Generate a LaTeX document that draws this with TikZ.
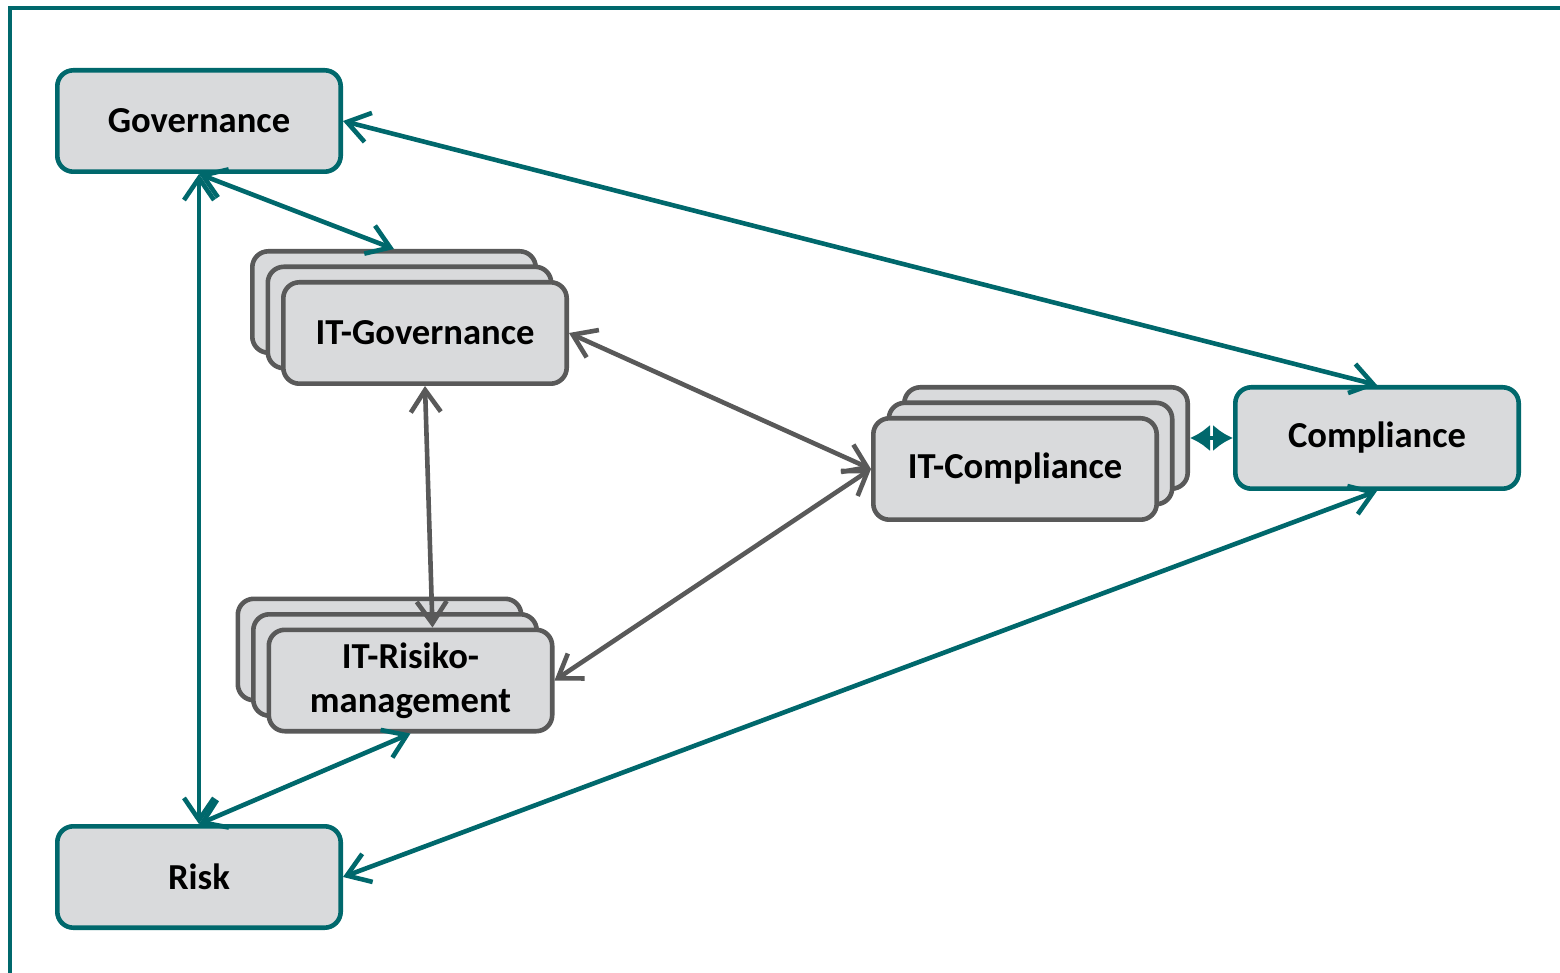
\documentclass[tikz,border=0pt]{standalone}
\usepackage{fontspec}
\setmainfont{Carlito}
\usetikzlibrary{arrows.meta}
\definecolor{petrol}{RGB}{0,104,108}
\definecolor{boxgrey}{RGB}{217,218,220}
\definecolor{edgegrey}{RGB}{89,89,89}
\tikzset{
  x = 0.5pt, % one unit = one pixel
  y = -0.5pt, % y grows downwards
  topic/.style = { % rounded box, argument = border colour
    draw = #1,
    fill = boxgrey,
    line width = 2.3pt,
    rounded corners = 8pt,
    minimum width = 141.7pt, % same size for all boxes
    minimum height = 50.7pt,
    align = center,
    inner sep = 0pt,
    font = \fontsize{18.3}{22}\selectfont\bfseries,
  },
  link/.style = { % two-way connector
    draw = #1,
    line width = 2.3pt,
    {Straight Barb[length=11pt,width=15pt]}-{Straight Barb[length=11pt,width=15pt]},
  },
}
\begin{document}
\begin{tikzpicture}
    \useasboundingbox (0,0) rectangle (1560,973);
    \fill[white] (0,0) rectangle (1560,973);
    \draw[petrol,line width=2.3pt] (10,8) rectangle (1600,975); % outer frame
    % main boxes
    \node[topic=petrol] (gov)  at (199,121)  {Governance};
    \node[topic=petrol] (risk) at (199,877)  {Risk};
    \node[topic=petrol] (comp) at (1377,438) {Compliance};
    % stacked IT boxes, back to front
    \foreach \i in {2,1}{ % hack for drawing stacked nodes
      \node[topic=edgegrey] (itg\i) at (425-15.5*\i,333-15.5*\i) {};
      \node[topic=edgegrey] (itr\i) at (410.5-15.5*\i,680.5-15.5*\i) {};
      \node[topic=edgegrey] (itc\i) at (1015+15.5*\i,469-15.5*\i) {};
    } % end loop
    \node[topic=edgegrey] (itg) at (425,333)    {IT-Governance};
    \node[topic=edgegrey] (itr) at (410.5,680.5) {IT-Risiko-\\management};
    \node[topic=edgegrey] (itc) at (1015,469)   {IT-Compliance};
    % outer links
    \draw[link=petrol] (gov.east) -- (comp.north);
    \draw[link=petrol] (gov.south) -- (itg2.north);
    \draw[link=petrol] (gov.south) -- (risk.north);
    \draw[link=petrol] (risk.north) -- (itr.south);
    \draw[link=petrol] (risk.east) -- (comp.south);
    % inner links
    \draw[link=edgegrey] (itg.east) -- (itc.west);
    \draw[link=edgegrey] (itg.south) -- ([xshift=11pt]itr.north);
    \draw[link=edgegrey] (itr.east) -- (itc.west);
    % compliance coupling
    \draw[petrol,line width=2.3pt,{Latex[length=10pt,width=13.5pt]}-{Latex[length=10pt,width=13.5pt]}] (itc2.east) -- (comp.west);
\end{tikzpicture}
\end{document}
